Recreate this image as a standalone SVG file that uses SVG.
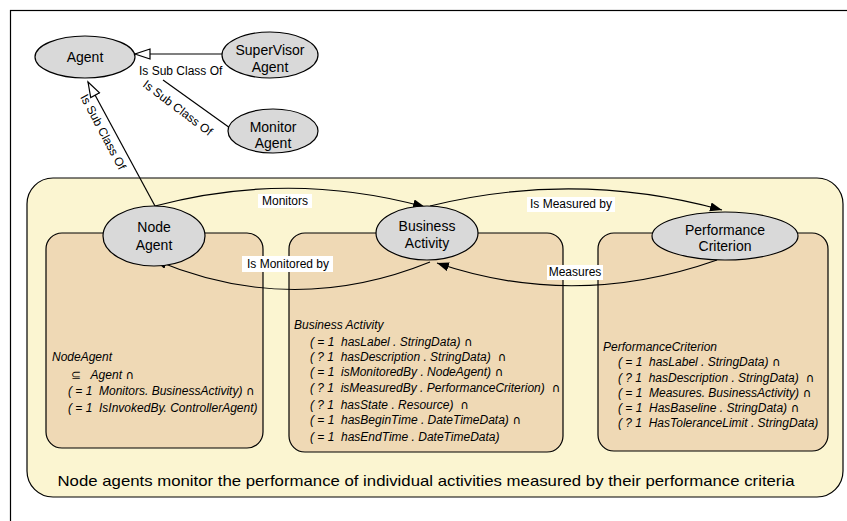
<svg xmlns="http://www.w3.org/2000/svg" width="847" height="521" viewBox="0 0 847 521" xml:space="preserve">
<style>
.ell{fill:#d9d9d9;stroke:#000;stroke-width:1.2}
.nt{font-family:"Liberation Sans",Arial,sans-serif;font-size:14px;text-anchor:middle;fill:#000}
.lb{font-family:"Liberation Sans",Arial,sans-serif;font-size:12px;fill:#000}
.lbm{font-family:"Liberation Sans",Arial,sans-serif;font-size:12px;fill:#000;text-anchor:middle}
.it{font-family:"Liberation Sans",Arial,sans-serif;font-size:12px;font-style:italic;fill:#000;white-space:pre}
.cap{font-size:12px;font-family:"DejaVu Sans",sans-serif;font-style:italic}
.ln{fill:none;stroke:#000;stroke-width:1.2}
.bg{fill:#fff}
.inner{fill:#efd9b5;stroke:#000;stroke-width:1.2}
</style>
<defs>
<marker id="hollow" markerUnits="userSpaceOnUse" markerWidth="20" markerHeight="14" refX="16" refY="6" orient="auto">
<path d="M1,1 L16,6 L1,11 z" fill="#fff" stroke="#000" stroke-width="1.2"/>
</marker>
<marker id="solid" markerUnits="userSpaceOnUse" markerWidth="14" markerHeight="10" refX="12" refY="4.5" orient="auto">
<path d="M0,0 L12,4.5 L0,9 z" fill="#000"/>
</marker>
</defs>
<rect x="0" y="0" width="847" height="521" fill="#fff"/>
<rect x="10.5" y="10.5" width="860" height="540" fill="none" stroke="#000" stroke-width="1.2"/>
<g id="container">
<rect x="27" y="178" width="816" height="319" rx="26" ry="26" fill="#fbf5d1" stroke="#000" stroke-width="1.2"/>
</g>
<g id="box-nodeagent">
<rect class="inner" x="46" y="233" width="217" height="215" rx="16" ry="16"/>
<text class="it" x="52" y="361">NodeAgent</text>
<text class="it" x="71" y="379"><tspan class="cap">⊆</tspan>   Agent <tspan class="cap">∩</tspan></text>
<text class="it" x="68" y="395">( = 1  Monitors. BusinessActivity) <tspan class="cap">∩</tspan></text>
<text class="it" x="68" y="412">( = 1  IsInvokedBy. ControllerAgent)</text>
</g>
<g id="box-businessactivity">
<rect class="inner" x="289" y="233" width="274" height="219" rx="16" ry="16"/>
<text class="it" x="294" y="329">Business Activity</text>
<text class="it" x="310" y="346">( = 1  hasLabel . StringData) <tspan class="cap">∩</tspan></text>
<text class="it" x="310" y="361">( ? 1  hasDescription . StringData)  <tspan class="cap">∩</tspan></text>
<text class="it" x="310" y="376">( = 1  isMonitoredBy . NodeAgent) <tspan class="cap">∩</tspan></text>
<text class="it" x="310" y="392">( ? 1  isMeasuredBy . PerformanceCriterion)  <tspan class="cap">∩</tspan></text>
<text class="it" x="310" y="409">( ? 1  hasState . Resource)  <tspan class="cap">∩</tspan></text>
<text class="it" x="310" y="424">( = 1  hasBeginTime . DateTimeData) <tspan class="cap">∩</tspan></text>
<text class="it" x="310" y="441">( = 1  hasEndTime . DateTimeData)</text>
</g>
<g id="box-performancecriterion">
<rect class="inner" x="598" y="233" width="230" height="218" rx="16" ry="16"/>
<text class="it" x="603" y="351">PerformanceCriterion</text>
<text class="it" x="618" y="366">( = 1  hasLabel . StringData) <tspan class="cap">∩</tspan></text>
<text class="it" x="618" y="382">( ? 1  hasDescription . StringData)  <tspan class="cap">∩</tspan></text>
<text class="it" x="618" y="397">( = 1  Measures. BusinessActivity) <tspan class="cap">∩</tspan></text>
<text class="it" x="618" y="412">( = 1  HasBaseline . StringData) <tspan class="cap">∩</tspan></text>
<text class="it" x="618" y="427">( ? 1  HasToleranceLimit . StringData)</text>
</g>
<g id="caption">
<text x="426" y="486" font-family="'Liberation Sans',Arial,sans-serif" font-size="15" text-anchor="middle" textLength="737" lengthAdjust="spacingAndGlyphs">Node agents monitor the performance of individual activities measured by their performance criteria</text>
</g>
<g id="connectors">
<line class="ln" x1="222" y1="54" x2="135" y2="54" marker-end="url(#hollow)"/>
<line class="ln" x1="230" y1="128" x2="163" y2="80"/>
<line class="ln" x1="155" y1="206" x2="88" y2="82" marker-end="url(#hollow)"/>
<path class="ln" d="M155,206 Q290,170 425,207" marker-end="url(#solid)"/>
<path class="ln" d="M430,206 Q576,170 722,210" marker-end="url(#solid)"/>
<path class="ln" d="M430,262 Q292,318 155,260" marker-end="url(#solid)"/>
<path class="ln" d="M717,260 Q575,310 437,263" marker-end="url(#solid)"/>
<text class="lb" x="139" y="75">Is Sub Class Of</text>
<text class="lb" transform="translate(142,86) rotate(37)">Is Sub Class Of</text>
<text class="lb" transform="translate(80,97) rotate(62)">Is Sub Class Of</text>
<rect class="bg" x="258" y="194" width="54" height="14"/>
<text class="lbm" x="285" y="205">Monitors</text>
<rect class="bg" x="527" y="197" width="88" height="15"/>
<text class="lbm" x="571" y="208">Is Measured by</text>
<rect class="bg" x="242" y="256" width="91" height="16"/>
<text class="lbm" x="288" y="268">Is Monitored by</text>
<rect class="bg" x="547" y="265" width="56" height="15"/>
<text class="lbm" x="575" y="276">Measures</text>
</g>
<g id="node-agent">
<ellipse class="ell" cx="85" cy="57" rx="50" ry="21"/>
<text class="nt" x="85" y="62">Agent</text>
</g>
<g id="node-supervisor">
<ellipse class="ell" cx="270" cy="55" rx="48" ry="23"/>
<text class="nt" x="270" y="55">SuperVisor</text>
<text class="nt" x="270" y="72">Agent</text>
</g>
<g id="node-monitor">
<ellipse class="ell" cx="273" cy="131" rx="45" ry="22"/>
<text class="nt" x="273" y="132">Monitor</text>
<text class="nt" x="273" y="148">Agent</text>
</g>
<g id="node-nodeagent">
<ellipse class="ell" cx="154" cy="236" rx="51" ry="30"/>
<text class="nt" x="154" y="232" font-size="15">Node</text>
<text class="nt" x="154" y="250" font-size="15">Agent</text>
</g>
<g id="node-businessactivity">
<ellipse class="ell" cx="427" cy="233" rx="51" ry="27"/>
<text class="nt" x="427" y="231">Business</text>
<text class="nt" x="427" y="248">Activity</text>
</g>
<g id="node-performancecriterion">
<ellipse class="ell" cx="725" cy="236" rx="73" ry="24"/>
<text class="nt" x="725" y="235">Performance</text>
<text class="nt" x="725" y="251">Criterion</text>
</g>
</svg>
